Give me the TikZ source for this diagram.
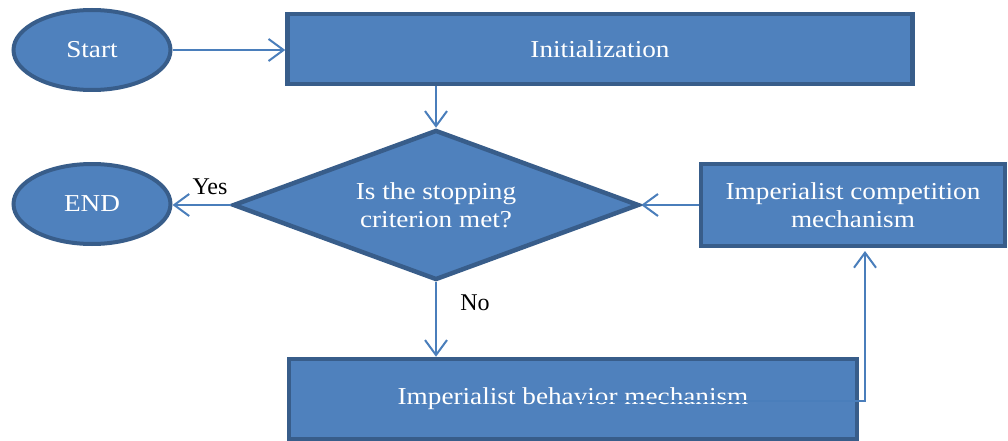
\documentclass[tikz,border=0pt]{standalone}
\usepackage{fontspec}
\setmainfont{Liberation Serif}
\newfontfamily\boxfont[FakeStretch=1.12]{Liberation Serif}
\usetikzlibrary{shapes.geometric,arrows.meta}
\definecolor{boxfill}{HTML}{4F81BD}
\definecolor{boxline}{HTML}{385D8A}
\definecolor{arrowcol}{HTML}{4A7EBB}
\tikzset{
  blockbox/.style={draw=boxline, fill=boxfill, line width=4.5pt, rectangle, inner sep=0pt,
    text=white, font=\boxfont\fontsize{24.3}{28}\selectfont, align=center},
  ovalbox/.style={draw=boxline, fill=boxfill, line width=4pt, ellipse, inner sep=0pt,
    text=white, font=\boxfont\fontsize{24.3}{28}\selectfont, align=center,
    minimum width=157pt, minimum height=80pt},
  decbox/.style={draw=boxline, fill=boxfill, line width=4.5pt, diamond, inner sep=0pt,
    shape aspect=2.7, text=white, font=\boxfont\fontsize{24.3}{28}\selectfont, align=center,
    minimum width=406pt, minimum height=150pt},
  flow/.style={draw=arrowcol, line width=2pt,
    -{Straight Barb[length=15pt,width=22pt,line width=2pt]}},
  lbl/.style={font=\fontsize{24}{28}\selectfont, text=black}
}
\begin{document}
\begin{tikzpicture}[x=1pt,y=-1pt]
\useasboundingbox (0,0) rectangle (1008,441);
\node[ovalbox] (start) at (92,50) {Start};
\node[blockbox, minimum width=625pt, minimum height=70pt] (init) at (600,49) {Initialization};
\node[decbox] (dec) at (436,205) {Is the stopping\\criterion met?};
\node[ovalbox] (end) at (92,204) {END};
\node[blockbox, minimum width=304pt, minimum height=82pt] (comp) at (853,205) {Imperialist competition\\mechanism};
\node[blockbox, minimum width=568pt, minimum height=80pt] (behav) at (573,399) {Imperialist behavior mechanism};
\node[lbl] (yes) at (210,187) {Yes};
\node[lbl] (no) at (475,303) {No};
\coordinate (turn) at (865,401);
\coordinate (upend) at (865,251);
\draw[flow] (start.east) -- (init.west |- start.east);
\draw[flow] (dec.north |- init.south) -- (dec.north);
\draw[flow] (dec.west) -- (end.east |- dec.west);
\draw[flow] (comp.west) -- (dec.east);
\draw[flow] (dec.south) -- (dec.south |- behav.north);
\draw[flow] (behav.center |- turn) -- (turn) -- (upend);
\end{tikzpicture}
\end{document}
